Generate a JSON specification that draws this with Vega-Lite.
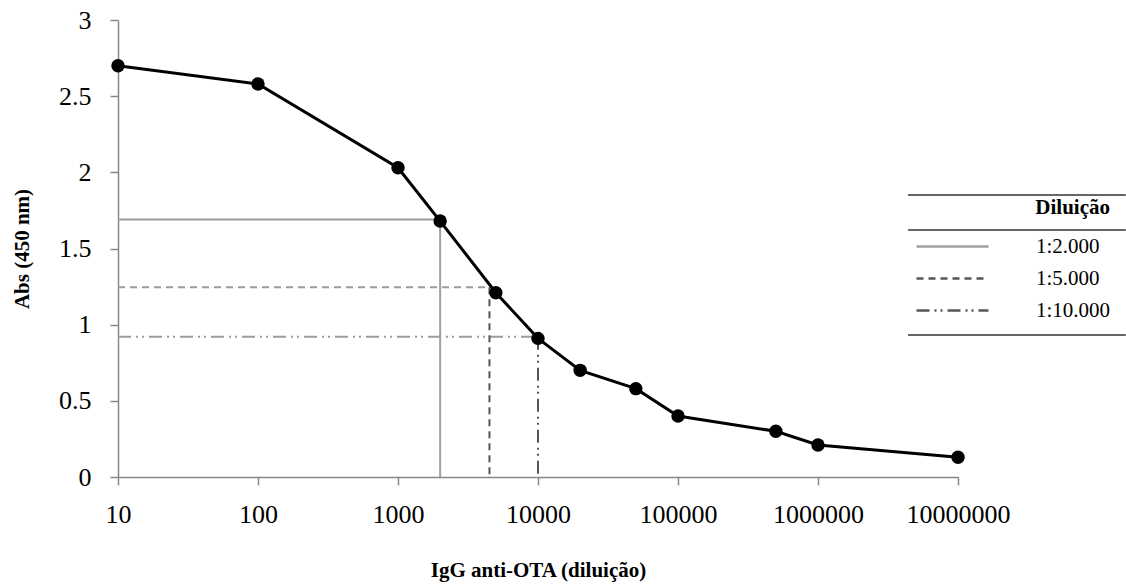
{
  "$schema": "https://vega.github.io/schema/vega-lite/v6.json",
  "width": 840,
  "height": 457,
  "autosize": {"type": "none"},
  "padding": {"left": 118, "top": 20, "right": 168, "bottom": 109},
  "background": "white",
  "config": {
    "view": {"stroke": null},
    "font": "Liberation Serif",
    "axis": {
      "labelFont": "Liberation Serif",
      "titleFont": "Liberation Serif",
      "labelFontSize": 26,
      "titleFontSize": 21,
      "titleFontWeight": "bold",
      "labelColor": "#000",
      "titleColor": "#000",
      "domainColor": "#888",
      "domainWidth": 1.5,
      "tickColor": "#888",
      "tickWidth": 1.5,
      "tickSize": 8,
      "labelFlush": false,
      "grid": false
    }
  },
  "datasets": {
    "curve": [
      {"dil": 10, "abs": 2.70},
      {"dil": 100, "abs": 2.58},
      {"dil": 1000, "abs": 2.03},
      {"dil": 2000, "abs": 1.68},
      {"dil": 5000, "abs": 1.21},
      {"dil": 10000, "abs": 0.91},
      {"dil": 20000, "abs": 0.70},
      {"dil": 50000, "abs": 0.58},
      {"dil": 100000, "abs": 0.40},
      {"dil": 500000, "abs": 0.30},
      {"dil": 1000000, "abs": 0.21},
      {"dil": 10000000, "abs": 0.13}
    ],
    "vref": [
      {"Diluição": "1:2.000", "dil": 2000, "abs": 1.69},
      {"Diluição": "1:2.000", "dil": 2000, "abs": 0},
      {"Diluição": "1:5.000", "dil": 4500, "abs": 1.245},
      {"Diluição": "1:5.000", "dil": 4500, "abs": 0},
      {"Diluição": "1:10.000", "dil": 10000, "abs": 0.92},
      {"Diluição": "1:10.000", "dil": 10000, "abs": 0}
    ],
    "href": [
      {"Diluição": "1:2.000", "dil": 10, "abs": 1.69},
      {"Diluição": "1:2.000", "dil": 2000, "abs": 1.69},
      {"Diluição": "1:5.000", "dil": 10, "abs": 1.245},
      {"Diluição": "1:5.000", "dil": 4500, "abs": 1.245},
      {"Diluição": "1:10.000", "dil": 10, "abs": 0.92},
      {"Diluição": "1:10.000", "dil": 10000, "abs": 0.92}
    ],
    "table": [{"edge": "top", "abs": 1.851}, {"edge": "header", "abs": 1.621}, {"edge": "bottom", "abs": 0.932}]
  },
  "layer": [
    {
      "data": {"name": "href"},
      "mark": {"type": "line", "strokeWidth": 2, "color": "#9c9c9c"},
      "encoding": {
        "x": {"field": "dil", "type": "quantitative"},
        "y": {"field": "abs", "type": "quantitative"},
        "detail": {"field": "Diluição"},
        "strokeDash": {
          "field": "Diluição", "type": "nominal",
          "scale": {"domain": ["1:2.000", "1:5.000", "1:10.000"], "range": [[1, 0], [7, 5], [13, 5, 2, 4, 2, 5]]}
        }
      }
    },
    {
      "data": {"name": "vref"},
      "mark": {"type": "line", "strokeWidth": 2},
      "encoding": {
        "x": {"field": "dil", "type": "quantitative"},
        "y": {"field": "abs", "type": "quantitative"},
        "color": {
          "field": "Diluição", "type": "nominal",
          "scale": {"domain": ["1:2.000", "1:5.000", "1:10.000"], "range": ["#a0a0a0", "#555555", "#555555"]},
          "legend": {
            "orient": "none", "legendX": 823, "legendY": 177,
            "symbolType": "M-3.6,0H3.6", "symbolSize": 400, "symbolStrokeWidth": 2.5,
            "labelOffset": 72, "labelFontSize": 21, "labelFont": "Liberation Serif", "labelColor": "#000",
            "titleFont": "Liberation Serif", "titleFontSize": 21, "titleFontWeight": "bold", "titleColor": "#000",
            "titleAnchor": "end", "titlePadding": 17, "rowPadding": 10
          }
        },
        "strokeDash": {
          "field": "Diluição", "type": "nominal",
          "scale": {"domain": ["1:2.000", "1:5.000", "1:10.000"], "range": [[1, 0], [7, 5], [13, 5, 2, 4, 2, 5]]}
        }
      }
    },
    {
      "data": {"name": "curve"},
      "mark": {"type": "line", "color": "#000", "strokeWidth": 3},
      "encoding": {
        "x": {
          "field": "dil", "type": "quantitative",
          "scale": {"type": "log", "domain": [10, 10000000]},
          "axis": {"values": [10, 100, 1000, 10000, 100000, 1000000, 10000000], "format": "d", "labelPadding": 16, "titlePadding": 32, "labelOverlap": false, "title": "IgG anti-OTA (diluição)"}
        },
        "y": {
          "field": "abs", "type": "quantitative",
          "scale": {"domain": [0, 3]},
          "axis": {"values": [0, 0.5, 1, 1.5, 2, 2.5, 3], "format": "~g", "labelPadding": 19, "titlePadding": 26, "title": "Abs (450 nm)"}
        }
      }
    },
    {
      "data": {"name": "curve"},
      "mark": {"type": "point", "filled": true, "color": "#000", "size": 180, "opacity": 1},
      "encoding": {
        "x": {"field": "dil", "type": "quantitative"},
        "y": {"field": "abs", "type": "quantitative"}
      }
    },
    {
      "data": {"name": "table"},
      "mark": {"type": "rule", "color": "#666", "strokeWidth": 2, "clip": false},
      "encoding": {
        "x": {"datum": 4400000, "type": "quantitative"},
        "x2": {"datum": 158000000},
        "y": {"field": "abs", "type": "quantitative"}
      }
    }
  ]
}
